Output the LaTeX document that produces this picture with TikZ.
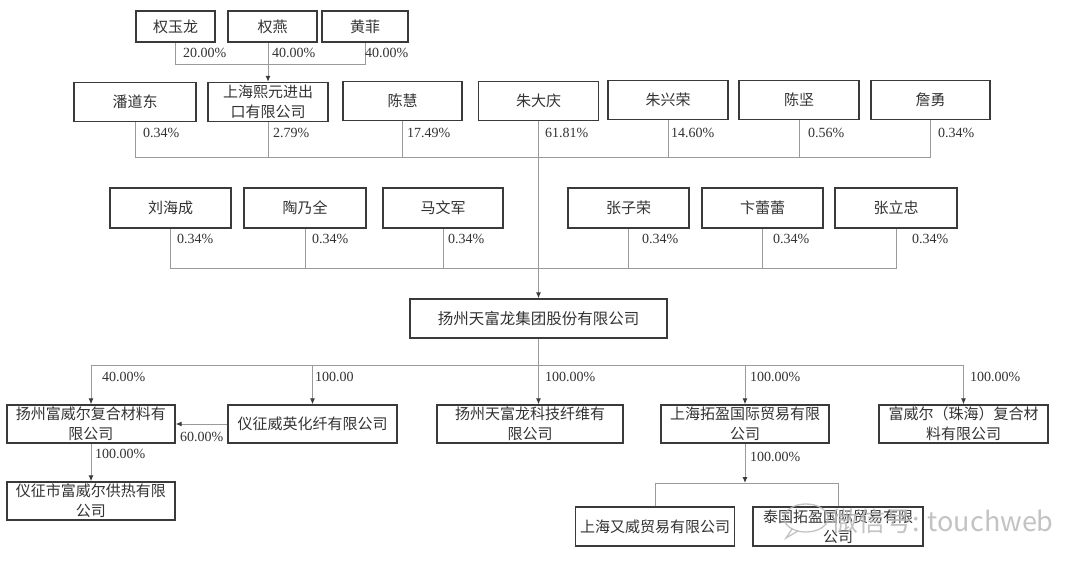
\documentclass[tikz,border=0pt]{standalone}
\usepackage{fontspec}
\setmainfont{Liberation Serif}
\newfontfamily\cjk{Noto Sans CJK SC}
\usetikzlibrary{arrows.meta,calc}
\definecolor{boxc}{HTML}{3A3A3A}
\definecolor{linec}{HTML}{9A9A9A}
\definecolor{txtc}{HTML}{333333}
\tikzset{
  bx/.style 2 args={draw=boxc, line width=1.4pt, minimum width=#1pt, minimum height=#2pt,
    inner sep=0pt, align=center, text=txtc, font=\cjk\fontsize{15}{20}\selectfont},
  conn/.style={draw=linec, line width=1pt},
  arr/.style={conn, -{Latex[length=6pt,width=5pt,color=boxc]}},
  pct/.style={font=\fontsize{14}{16}\selectfont, text=txtc, inner sep=0pt, anchor=west},
  wmark/.style={text=gray!55, opacity=0.85, inner sep=0pt}
}
\begin{document}
\begin{tikzpicture}[x=1pt,y=-1pt]
\useasboundingbox[fill=white] (0,0) rectangle (1080,568);

% top shareholders of 上海熙元
\node[bx={79}{31}] (q1) at (175.5,26.5) {权玉龙};
\node[bx={89}{31}] (q2) at (272.5,26.5) {权燕};
\node[bx={86}{31}] (q3) at (365,26.5) {黄菲};
\coordinate (t1) at (268,64);

% row 1
\node[bx={122}{39}] (p1) at (135,102) {潘道东};
\node[bx={120}{39}] (p2) at (268,102) {上海熙元进出\\口有限公司};
\node[bx={119}{39}] (p3) at (402.5,101) {陈慧};
\node[bx={120}{39}] (p4) at (538.5,101) {朱大庆};
\node[bx={120}{39}] (p5) at (668,100) {朱兴荣};
\node[bx={120}{39}] (p6) at (799,100) {陈坚};
\node[bx={119}{39}] (p7) at (930.5,100) {詹勇};
\coordinate (h1) at (0,157);

% row 2
\node[bx={121}{40}] (r1) at (170.5,208) {刘海成};
\node[bx={122}{40}] (r2) at (305,208) {陶乃全};
\node[bx={120}{40}] (r3) at (443,208) {马文军};
\node[bx={121}{40}] (r4) at (628.5,208) {张子荣};
\node[bx={121}{40}] (r5) at (762.5,208) {卞蕾蕾};
\node[bx={122}{40}] (r6) at (896,208) {张立忠};
\coordinate (h2) at (0,268);

% group
\node[bx={257}{39}, font=\cjk\fontsize{15.5}{20}\selectfont] (g) at (538.5,318.5) {扬州天富龙集团股份有限公司};
\coordinate (h3) at (0,365);

% subsidiaries
\node[bx={168}{38}] (f1) at (91,424) {扬州富威尔复合材料有\\限公司};
\node[bx={169}{38}] (f2) at (312.5,424) {仪征威英化纤有限公司};
\node[bx={186}{38}] (f3) at (530,424) {扬州天富龙科技纤维有\\限公司};
\node[bx={168}{38}] (f4) at (745,424) {上海拓盈国际贸易有限\\公司};
\node[bx={169}{38}] (f5) at (963.5,424) {富威尔（珠海）复合材\\料有限公司};
\node[bx={168}{38}] (f6) at (91,501) {仪征市富威尔供热有限\\公司};
\coordinate (h4) at (0,483);
\node[bx={159}{39}] (s1) at (655,526.5) {上海又威贸易有限公司};
\node[bx={170}{39}] (s2) at (838,526.5) {泰国拓盈国际贸易有限\\公司};

% connectors: top
\draw[conn] (q1.south) |- (q3.south |- t1) -- (q3.south);
\draw[conn] (q2.south -| t1) -- (t1);
\draw[arr] (t1) -- (p2.north);

% connectors: row 1
\draw[conn] (p1.south) |- (p7.south |- h1) -- (p7.south);
\foreach \n in {p2,p3,p5,p6} \draw[conn] (\n.south) -- (\n.south |- h1);
% row 2
\draw[conn] (r1.south) |- (r6.south |- h2) -- (r6.south);
\foreach \n in {r2,r3,r4,r5} \draw[conn] (\n.south) -- (\n.south |- h2);
% trunk
\draw[arr] (p4.south) -- (g.north);

% branches
\draw[conn] (g.south) -- (g.south |- h3);
\draw[conn] (f1.north |- h3) -- (f5.north |- h3);
\draw[arr] (f1.north |- h3) -- (f1.north);
\draw[arr] (f2.north |- h3) -- (f2.north);
\draw[arr] (g.south |- h3) -- (g.south |- f3.north);
\draw[arr] (f4.north |- h3) -- (f4.north);
\draw[arr] (f5.north |- h3) -- (f5.north);
\draw[arr] (f2.west) -- (f1.east);
\draw[arr] (f1.south) -- (f6.north);
\draw[arr] (f4.south) -- (f4.south |- h4);
\draw[conn] (s1.north) |- (s2.north |- h4) -- (s2.north);

% labels
\node[pct] (l01) at (183,53) {20.00\%};
\node[pct] (l02) at (272,53) {40.00\%};
\node[pct] (l03) at (365,53) {40.00\%};

\node[pct] (l11) at (143,133) {0.34\%};
\node[pct] (l12) at (273,133) {2.79\%};
\node[pct] (l13) at (407,133) {17.49\%};
\node[pct] (l14) at (545,133) {61.81\%};
\node[pct] (l15) at (671,133) {14.60\%};
\node[pct] (l16) at (808,133) {0.56\%};
\node[pct] (l17) at (938,133) {0.34\%};

\node[pct] (l21) at (177,239) {0.34\%};
\node[pct] (l22) at (312,239) {0.34\%};
\node[pct] (l23) at (448,239) {0.34\%};
\node[pct] (l24) at (642,239) {0.34\%};
\node[pct] (l25) at (773,239) {0.34\%};
\node[pct] (l26) at (912,239) {0.34\%};

\node[pct] (l31) at (102,377) {40.00\%};
\node[pct] (l32) at (315,377) {100.00};
\node[pct] (l33) at (545,377) {100.00\%};
\node[pct] (l34) at (750,377) {100.00\%};
\node[pct] (l35) at (970,377) {100.00\%};
\node[pct] (l36) at (180,437) {60.00\%};
\node[pct] (l37) at (95,454) {100.00\%};
\node[pct] (l38) at (750,457) {100.00\%};

% watermark
\draw[gray!55, opacity=0.85, line width=1.3pt] (806,518) ellipse [x radius=22, y radius=14];
\draw[gray!55, opacity=0.85, line width=1.3pt] (792,529) -- (786,538) -- (798,531);
\fill[gray!55, opacity=0.85] (799,516) circle (1.5) (811,516) circle (1.5);
\node[wmark, anchor=west, font=\cjk\fontsize{27}{27}\selectfont] (wm) at (831,521) {微信号: touchweb};
\end{tikzpicture}
\end{document}
